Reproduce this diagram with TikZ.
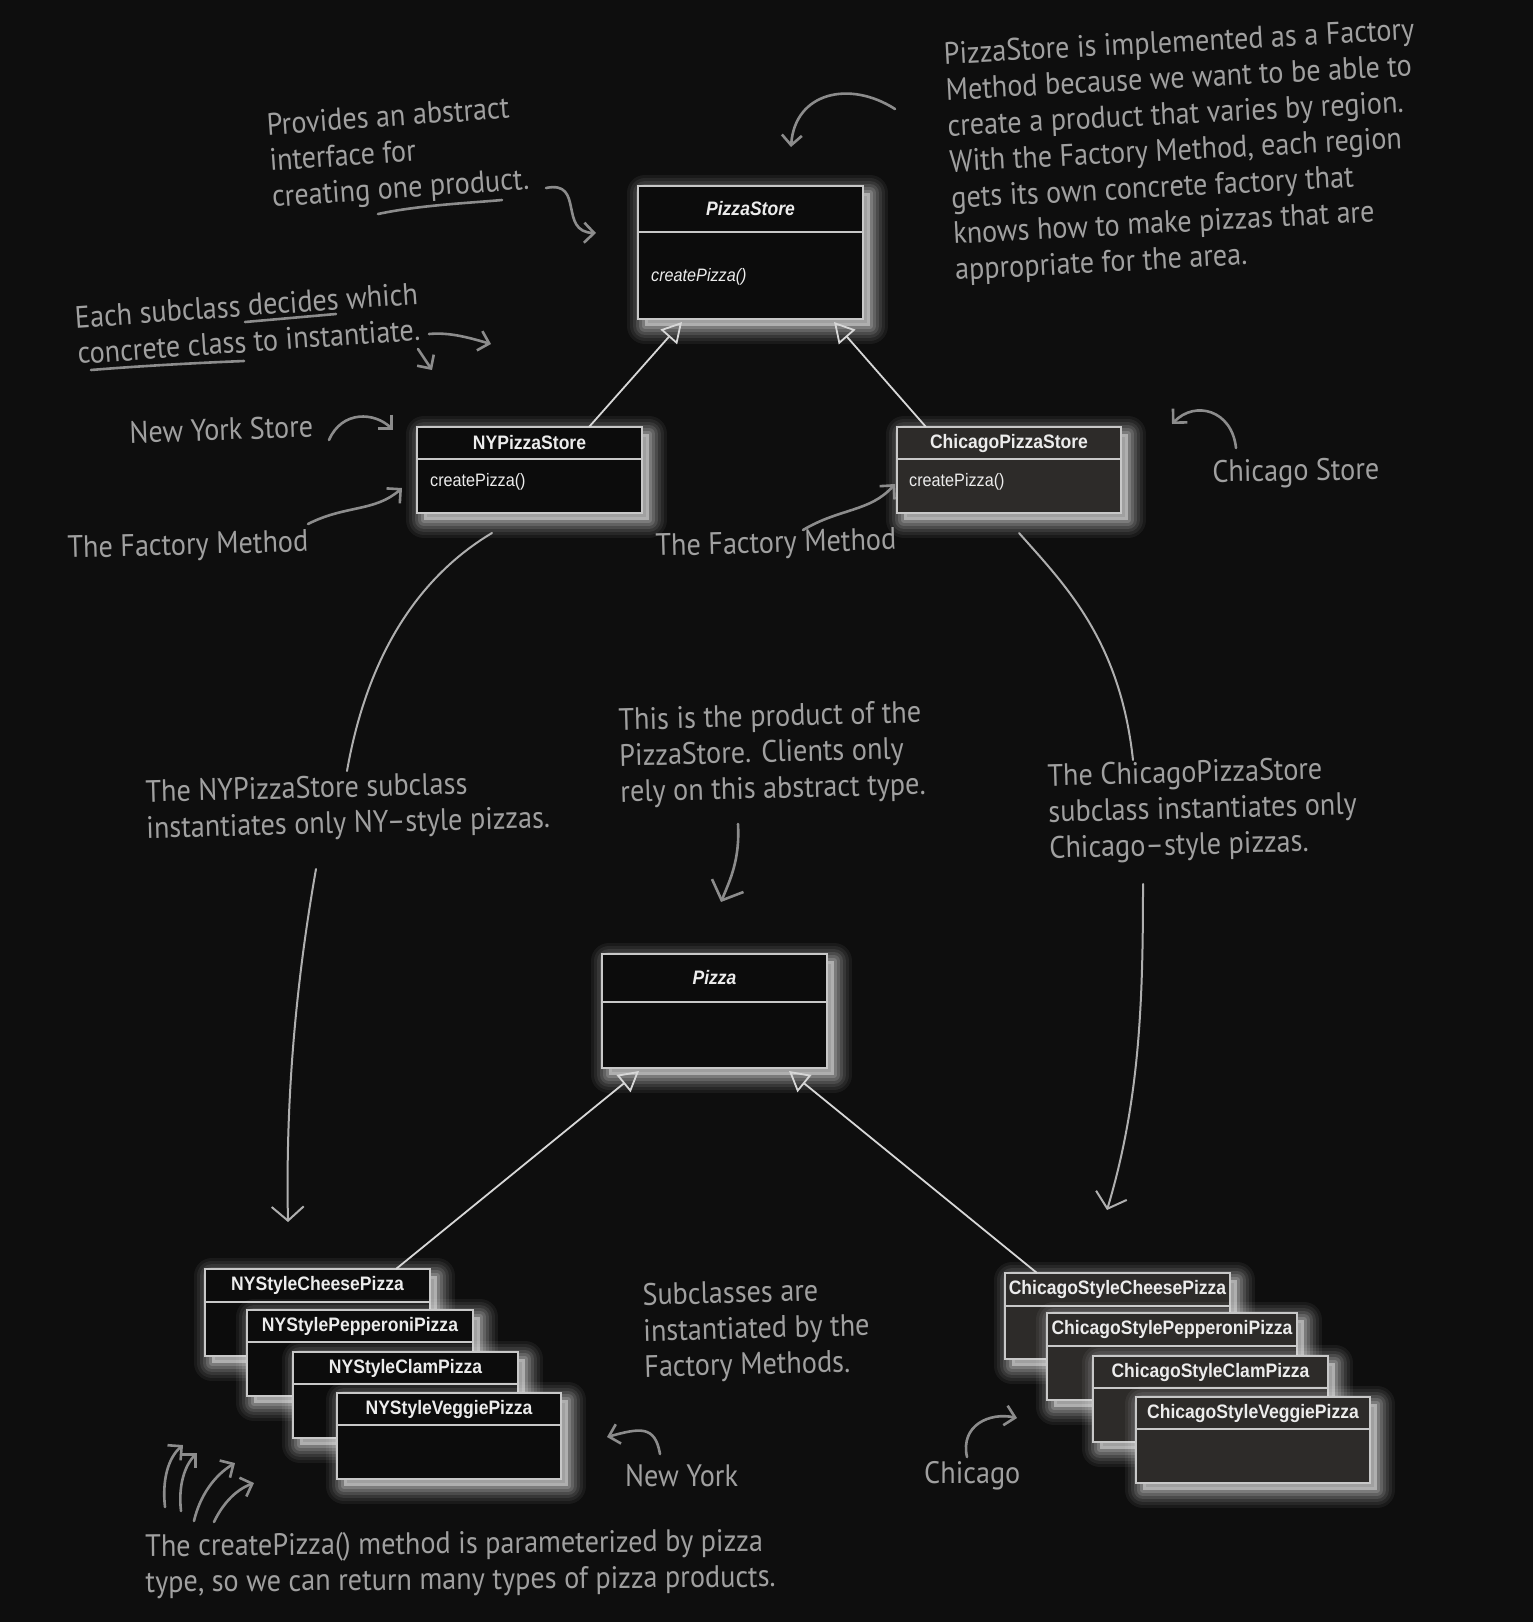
\documentclass[tikz,border=0pt]{standalone}
\usepackage{fontspec}
\usetikzlibrary{shadows,arrows.meta}
\newfontfamily\handfont[FakeStretch=0.91]{PT Sans}
\newfontfamily\umlfont[FakeStretch=0.9]{Liberation Sans}
\definecolor{bgc}{RGB}{14,14,14}
\definecolor{nyfill}{RGB}{12,12,12}
\definecolor{chfill}{RGB}{45,43,41}
\definecolor{boxline}{RGB}{200,200,200}
\definecolor{umltext}{RGB}{236,236,236}
\definecolor{handgray}{RGB}{160,160,160}
\definecolor{arrowgray}{RGB}{140,140,140}
\definecolor{conngray}{RGB}{175,175,175}
\definecolor{inhgray}{RGB}{215,215,215}
\tikzset{
  glowring/.style 2 args={general shadow={draw=white, draw opacity=#2, line width=#1, line join=round, shadow xshift=7pt, shadow yshift=-7pt}},
  glow/.style={glowring={36pt}{0.05}, glowring={30pt}{0.06}, glowring={24pt}{0.08},
    glowring={18pt}{0.10}, glowring={12pt}{0.13}, glowring={6pt}{0.16},
    general shadow={fill=white, fill opacity=0.4, shadow xshift=7pt, shadow yshift=-7pt}},
  umlbox/.style={draw=boxline, line width=1.4pt, inner sep=0pt, outer sep=0pt, anchor=north west, glow},
  umlsep/.style={draw=boxline, line width=1.4pt},
  umltitle/.style={text=umltext, font=\umlfont\fontsize{19.5}{22}\selectfont\bfseries, inner sep=0pt},
  umlmethod/.style={text=umltext, font=\umlfont\fontsize{18}{21}\selectfont, inner sep=0pt, anchor=west},
  handtext/.style={text=handgray, font=\handfont\fontsize{31}{36}\selectfont, align=left, inner sep=0pt, anchor=north west},
  hand/.style={draw=arrowgray, line width=2.6pt, line cap=round, line join=round},
  harrow/.style={hand, -{Straight Barb[length=10pt, width=20pt]}},
  bigbarb/.style={hand, -{Straight Barb[length=16pt, width=34pt]}},
  conn/.style={draw=conngray, line width=2pt, line cap=round},
  inherit/.style={draw=inhgray, line width=1.8pt, -{Triangle[open, length=20pt, width=22pt]}}
}
\newcommand\umlbox[7]{%
  \node[umlbox, fill=#7, minimum width={#4-#2}, minimum height={#5-#3}] (#1) at (#2,#3) {};
  \draw[umlsep] (#2,#6) -- (#4,#6);
}
\begin{document}
\begin{tikzpicture}[x=1pt,y=-1pt]
\fill[bgc] (0,0) rectangle (1533,1622);
\useasboundingbox (0,0) rectangle (1533,1622);

% ---------- UML boxes ----------
\umlbox{ps}{638}{186}{863}{319}{232}{nyfill}
\node[umltitle] (psT) at (750.5,209) {\itshape PizzaStore};
\node[umlmethod] (psM) at (651,277) {\itshape createPizza()};

\umlbox{ny}{417}{427}{642}{513}{459}{nyfill}
\node[umltitle] (nyT) at (529.5,443) {NYPizzaStore};
\node[umlmethod] (nyM) at (430,482) {createPizza()};

\umlbox{ch}{897}{427}{1121}{513}{459}{chfill}
\node[umltitle] (chT) at (1009,443) {ChicagoPizzaStore};
\node[umlmethod] (chM) at (909,482) {createPizza()};

\umlbox{pz}{602}{954}{827}{1068}{1002}{nyfill}
\node[umltitle] (pzT) at (714.5,978) {\itshape Pizza};

\umlbox{nyc}{205}{1269}{430}{1356}{1302}{nyfill}
\node[umltitle] (nycT) at (317.5,1285.5) {NYStyleCheesePizza};
\umlbox{nyp}{247}{1310}{473}{1396}{1342}{nyfill}
\node[umltitle] (nypT) at (360,1326) {NYStylePepperoniPizza};
\umlbox{nyl}{293}{1352}{518}{1438}{1384}{nyfill}
\node[umltitle] (nylT) at (405.5,1368) {NYStyleClamPizza};
\umlbox{nyv}{337}{1393}{561}{1479}{1425}{nyfill}
\node[umltitle] (nyvT) at (449,1409) {NYStyleVeggiePizza};

\umlbox{chc}{1005}{1273}{1230}{1359}{1306}{chfill}
\node[umltitle] (chcT) at (1117.5,1289.5) {ChicagoStyleCheesePizza};
\umlbox{chp}{1047}{1313}{1297}{1400}{1346}{chfill}
\node[umltitle] (chpT) at (1172,1329.5) {ChicagoStylePepperoniPizza};
\umlbox{chl}{1093}{1356}{1328}{1442}{1388}{chfill}
\node[umltitle] (chlT) at (1210.5,1372) {ChicagoStyleClamPizza};
\umlbox{chv}{1136}{1397}{1370}{1483}{1429}{chfill}
\node[umltitle] (chvT) at (1253,1413) {ChicagoStyleVeggiePizza};

% ---------- inheritance ----------
\coordinate (nyUp) at (589,427);
\coordinate (psL) at (682,322);
\coordinate (chUp) at (926,427);
\coordinate (psR) at (834,322);
\coordinate (nycUp) at (396,1269);
\coordinate (pzL) at (639,1071);
\coordinate (chcUp) at (1037,1273);
\coordinate (pzR) at (789,1071);
\draw[inherit] (nyUp) -- (psL);
\draw[inherit] (chUp) -- (psR);
\draw[inherit] (nycUp) -- (pzL);
\draw[inherit] (chcUp) -- (pzR);

% ---------- handwritten notes ----------
\node[handtext, rotate=4] (tA) at (266,113) {Provides an abstract\\interface for\\creating one product.};
\node[handtext, rotate=3] (tD) at (943,42) {PizzaStore is implemented as a Factory\\Method because we want to be able to\\create a product that varies by region.\\With the Factory Method, each region\\gets its own concrete factory that\\knows how to make pizzas that are\\appropriate for the area.};
\node[handtext, rotate=4] (tE) at (74,306) {Each subclass decides which\\concrete class to instantiate.};
\node[handtext, rotate=2] (tF) at (129,421) {New York Store};
\node[handtext, rotate=1.5] (tG) at (67,536) {The Factory Method};
\node[handtext, rotate=1.5] (tH) at (655,534) {The Factory Method};
\node[handtext, rotate=1] (tI) at (1212,460) {Chicago Store};
\node[handtext, rotate=1.5] (tL) at (618,708) {This is the product of the\\PizzaStore. Clients only\\rely on this abstract type.};
\node[handtext, rotate=1.5] (tJ) at (145,780) {The NYPizzaStore subclass\\instantiates only NY–style pizzas.};
\node[handtext, rotate=1.5] (tK) at (1047,764) {The ChicagoPizzaStore\\subclass instantiates only\\Chicago–style pizzas.};
\node[handtext, rotate=1.5] (tM) at (642,1283) {Subclasses are\\instantiated by the\\Factory Methods.};
\node[handtext] (tN) at (625,1464) {New York};
\node[handtext] (tO) at (924,1461) {Chicago};
\node[handtext, rotate=0.5] (tQ) at (145,1534) {The createPizza() method is parameterized by pizza\\type, so we can return many types of pizza products.};

% underlines
\coordinate (uA0) at (378,214); \coordinate (uA1) at (502,200);
\draw[hand] (uA0) .. controls (420,205) and (470,203) .. (uA1);
\coordinate (uE0) at (245,322); \coordinate (uE1) at (336,314);
\draw[hand] (uE0) -- (uE1);
\coordinate (uE2) at (91,370); \coordinate (uE3) at (244,361);
\draw[hand] (uE2) .. controls (140,366) and (195,363) .. (uE3);

% ---------- hand arrows ----------
\coordinate (b0) at (546,188); \coordinate (b1) at (596,233);
\draw[harrow] (b0) .. controls (585,180) and (558,232) .. (b1);
\coordinate (c0) at (895,109); \coordinate (c1) at (791,147);
\draw[harrow] (c0) .. controls (850,80) and (795,92) .. (c1);
\coordinate (e0) at (429,334); \coordinate (e1) at (491,344);
\draw[harrow] (e0) .. controls (450,332) and (470,338) .. (e1);
\coordinate (e2) at (418,349); \coordinate (e3) at (432,370);
\draw[harrow] (e2) -- (e3);
\coordinate (f0) at (329,440); \coordinate (f1) at (393,430);
\draw[harrow] (f0) .. controls (342,410) and (375,412) .. (f1);
\coordinate (g0) at (308,524); \coordinate (g1) at (402,488);
\draw[harrow] (g0) .. controls (345,505) and (375,512) .. (g1);
\coordinate (h0) at (803,530); \coordinate (h1) at (895,484);
\draw[harrow] (h0) .. controls (840,508) and (870,512) .. (h1);
\coordinate (i0) at (1236,448); \coordinate (i1) at (1172,424);
\draw[harrow] (i0) .. controls (1232,410) and (1195,400) .. (i1);
\coordinate (l0) at (738,824); \coordinate (l1) at (721,902);
\draw[bigbarb] (l0) .. controls (740,860) and (730,880) .. (l1);
\coordinate (n0) at (660,1454); \coordinate (n1) at (607,1437);
\draw[harrow] (n0) .. controls (655,1425) and (640,1428) .. (n1);
\coordinate (o0) at (967,1457); \coordinate (o1) at (1017,1418);
\draw[harrow] (o0) .. controls (960,1425) and (990,1412) .. (o1);
\coordinate (p10) at (165,1507); \coordinate (p11) at (183,1445);
\draw[harrow] (p10) .. controls (162,1480) and (168,1458) .. (p11);
\coordinate (p20) at (181,1511); \coordinate (p21) at (197,1453);
\draw[harrow] (p20) .. controls (178,1485) and (185,1465) .. (p21);
\coordinate (p30) at (194,1521); \coordinate (p31) at (235,1463);
\draw[harrow] (p30) .. controls (200,1495) and (215,1475) .. (p31);
\coordinate (p40) at (214,1522); \coordinate (p41) at (254,1483);
\draw[harrow] (p40) .. controls (222,1505) and (235,1490) .. (p41);

% ---------- long connectors ----------
\coordinate (j0) at (492,533); \coordinate (j1) at (347,771);
\draw[conn] (j0) .. controls (430,570) and (370,640) .. (j1);
\coordinate (j2) at (316,869); \coordinate (j3) at (288,1222);
\draw[conn, -{Straight Barb[length=14pt, width=32pt]}] (j2) .. controls (300,960) and (285,1080) .. (j3);
\coordinate (k0) at (1019,533); \coordinate (k1) at (1133,760);
\draw[conn] (k0) .. controls (1065,585) and (1120,640) .. (k1);
\coordinate (k2) at (1143,884); \coordinate (k3) at (1107,1210);
\draw[conn, -{Straight Barb[length=14pt, width=32pt]}] (k2) .. controls (1143,1000) and (1140,1100) .. (k3);
\end{tikzpicture}
\end{document}
